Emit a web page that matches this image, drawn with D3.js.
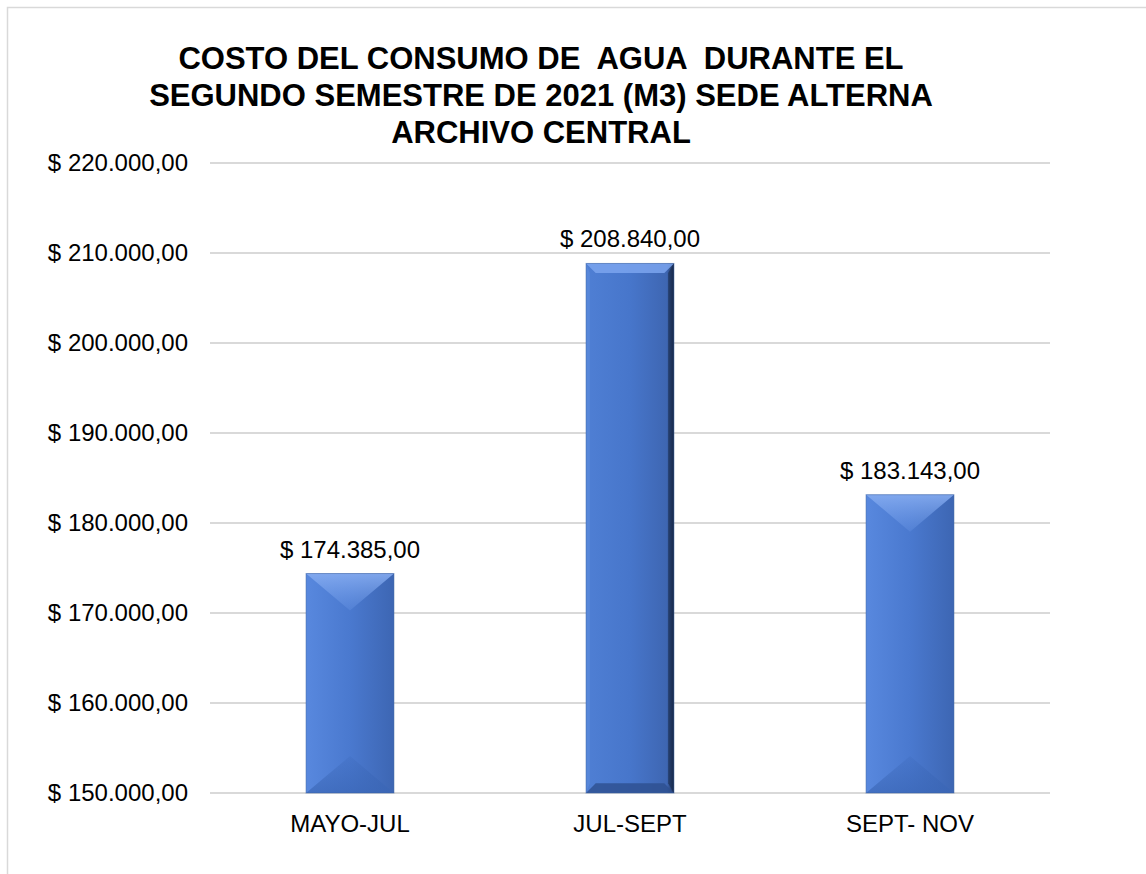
<!DOCTYPE html>
<html>
<head>
<meta charset="utf-8">
<script src="https://cdn.jsdelivr.net/npm/d3@7"></script>
<style>
    body { margin: 0; background: #fff; }
    svg { display: block; font-family: Arial, "Liberation Sans", sans-serif; }
</style>
</head>
<body>
<div id="chart-container"></div>
<script>
const titleLines = [
    "COSTO DEL CONSUMO DE  AGUA  DURANTE EL",
    "SEGUNDO SEMESTRE DE 2021 (M3) SEDE ALTERNA",
    "ARCHIVO CENTRAL"
];
const categories = ["MAYO-JUL", "JUL-SEPT", "SEPT- NOV"];
const costs = [174385, 208840, 183143];
const yTicks = [150000, 160000, 170000, 180000, 190000, 200000, 210000, 220000];

document.addEventListener('DOMContentLoaded', function () {
    renderChart(document.getElementById('chart-container'));
});

function money(v) {
    // 174385 -> "$ 174.385,00"
    const s = Math.round(v).toString().replace(/\B(?=(\d{3})+(?!\d))/g, ".");
    return "$ " + s + ",00";
}

function renderChart(container) {
    const width = 1146, height = 874;
    const plot = { left: 210, right: 1050, top: 163, bottom: 793 };
    const fontSize = 24;

    const svg = d3.select(container).append("svg")
        .attr("width", width)
        .attr("height", height);

    // chart frame (right and bottom edges fall outside the picture)
    svg.append("rect")
        .attr("x", 7.5).attr("y", 7.5)
        .attr("width", 1400).attr("height", 1200)
        .attr("fill", "#fff")
        .attr("stroke", "#d9d9d9")
        .attr("stroke-width", 1.5);

    const x = d3.scaleBand()
        .domain(categories)
        .range([plot.left, plot.right])
        .paddingInner(0.686)
        .paddingOuter(0.343);

    const y = d3.scaleLinear()
        .domain([150000, 220000])
        .range([plot.bottom, plot.top]);

    // gradients
    const defs = svg.append("defs");
    function hGrad(id, stops, vertical) {
        const g = defs.append("linearGradient").attr("id", id)
            .attr("x1", 0).attr("x2", vertical ? 0 : 1)
            .attr("y1", 0).attr("y2", vertical ? 1 : 0);
        stops.forEach(s => g.append("stop").attr("offset", s[0])
            .attr("stop-color", s[1]).attr("stop-opacity", s[2] === undefined ? 1 : s[2]));
    }
    hGrad("barBody", [[0, "#5888de"], [0.5, "#4a79cf"], [1, "#3d66b3"]]);
    hGrad("barBodyDark", [[0, "#4f7fd4"], [0.5, "#4776cb"], [0.92, "#3e66b2"], [1, "#1d2f55"]]);
    hGrad("topBevel", [[0, "#86acf0", 0.9], [1, "#6f9be9", 0.25]], true);
    hGrad("botBevel", [[0, "#3a66b6", 0.2], [1, "#3a66b6", 0.7]], true);

    // gridlines
    svg.append("g")
        .selectAll("line")
        .data(yTicks)
        .join("line")
        .attr("x1", plot.left).attr("x2", plot.right)
        .attr("y1", d => y(d)).attr("y2", d => y(d))
        .attr("stroke", "#d9d9d9")
        .attr("stroke-width", 2);

    // y axis labels
    const yAxis = d3.axisLeft(y)
        .tickValues(yTicks)
        .tickSize(0)
        .tickPadding(22)
        .tickFormat(money);
    const yG = svg.append("g")
        .attr("transform", `translate(${plot.left},0)`)
        .call(yAxis);
    yG.select(".domain").remove();
    yG.selectAll("text")
        .attr("font-size", fontSize)
        .attr("font-family", "Arial, 'Liberation Sans', sans-serif")
        .attr("fill", "#000");

    // x axis labels
    const xAxis = d3.axisBottom(x).tickSize(0).tickPadding(22);
    const xG = svg.append("g")
        .attr("transform", `translate(0,${plot.bottom})`)
        .call(xAxis);
    xG.select(".domain").remove();
    xG.selectAll("text")
        .attr("font-size", fontSize)
        .attr("font-family", "Arial, 'Liberation Sans', sans-serif")
        .attr("fill", "#000");

    // bars with bevel
    const bevelRatio = [0.42, 0.11, 0.42];
    const bars = svg.append("g")
        .selectAll("g")
        .data(categories.map((c, i) => ({ cat: c, value: costs[i], i: i })))
        .join("g");

    bars.append("rect")
        .attr("x", d => x(d.cat))
        .attr("y", d => y(d.value))
        .attr("width", x.bandwidth())
        .attr("height", d => plot.bottom - y(d.value))
        .attr("fill", d => d.i === 1 ? "url(#barBodyDark)" : "url(#barBody)");

    bars.each(function (d) {
        const g = d3.select(this);
        const x0 = x(d.cat), x1 = x0 + x.bandwidth();
        const y0 = y(d.value), y1 = plot.bottom;
        const b = x.bandwidth() * bevelRatio[d.i];
        const pts = arr => arr.map(p => p.join(",")).join(" ");
        if (d.i === 1) {
            // thin frame bevel
            g.append("polygon").attr("points", pts([[x0, y0], [x1, y0], [x1 - b, y0 + b], [x0 + b, y0 + b]]))
                .attr("fill", "#7ba4ee").attr("opacity", 0.85);
            g.append("polygon").attr("points", pts([[x0, y0], [x0 + b * 0.4, y0 + b], [x0 + b * 0.4, y1 - b], [x0, y1]]))
                .attr("fill", "#5f8fe0").attr("opacity", 0.5);
            g.append("polygon").attr("points", pts([[x1, y0], [x1 - b * 0.6, y0 + b], [x1 - b * 0.6, y1 - b], [x1, y1]]))
                .attr("fill", "#142340").attr("opacity", 0.5);
            g.append("polygon").attr("points", pts([[x0, y1], [x1, y1], [x1 - b, y1 - b], [x0 + b, y1 - b]]))
                .attr("fill", "#2d4f8e").attr("opacity", 0.8);
        } else {
            const cx = (x0 + x1) / 2;
            g.append("polygon").attr("points", pts([[x0, y0], [x1, y0], [cx, y0 + b]]))
                .attr("fill", "url(#topBevel)");
            g.append("polygon").attr("points", pts([[x0, y1], [x1, y1], [cx, y1 - b]]))
                .attr("fill", "url(#botBevel)");
        }
        g.append("rect")
            .attr("x", x0).attr("y", y0)
            .attr("width", x1 - x0).attr("height", y1 - y0)
            .attr("fill", "none")
            .attr("stroke", "#3a5f9f")
            .attr("stroke-opacity", 0.5)
            .attr("stroke-width", 1);
    });

    // value labels
    svg.append("g")
        .selectAll("text")
        .data(categories.map((c, i) => ({ cat: c, value: costs[i] })))
        .join("text")
        .attr("x", d => x(d.cat) + x.bandwidth() / 2)
        .attr("y", d => y(d.value) - 16)
        .attr("text-anchor", "middle")
        .attr("font-size", fontSize)
        .attr("fill", "#000")
        .text(d => money(d.value));

    // title
    svg.append("text")
        .attr("x", 541)
        .attr("y", 69)
        .attr("text-anchor", "middle")
        .attr("font-size", 31)
        .attr("font-weight", "bold")
        .style("white-space", "pre")
        .selectAll("tspan")
        .data(titleLines)
        .join("tspan")
        .attr("x", 541)
        .attr("dy", (d, i) => i === 0 ? 0 : 37)
        .text(d => d);
}
</script>
</body>
</html>
